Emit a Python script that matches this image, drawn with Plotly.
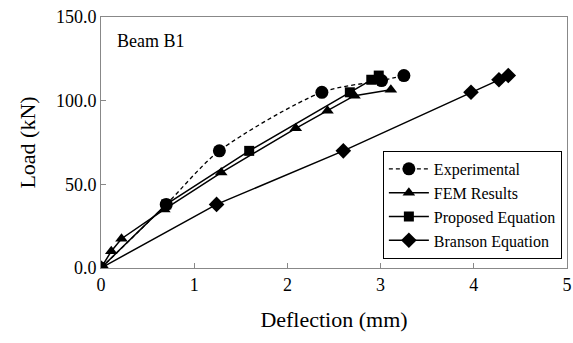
import plotly.graph_objects as go

exp_x = [0, 0.70, 1.27, 2.37, 3.01, 3.25]
exp_y = [0, 38, 70, 105, 112, 115]

fem_x = [0, 0.11, 0.22, 0.68, 1.29, 2.09, 2.43, 2.72, 3.11]
fem_y = [0, 10, 17.5, 35, 57, 83.5, 94, 103, 106.5]

prop_x = [0, 0.70, 1.59, 2.67, 2.90, 2.98]
prop_y = [0, 38, 70, 105, 112.5, 115]

bran_x = [0, 1.24, 2.60, 3.97, 4.27, 4.37]
bran_y = [0, 38, 70, 105, 112.5, 115]

FONT = "Liberation Serif"

fig = go.Figure()
fig.add_trace(go.Scatter(x=exp_x, y=exp_y, name="Experimental", mode="lines+markers",
                         line=dict(color="black", width=1.3, dash="4px,3px", shape="spline", smoothing=0.8),
                         marker=dict(symbol="circle", size=13, color="black")))
fig.add_trace(go.Scatter(x=fem_x, y=fem_y, name="FEM Results", mode="lines+markers",
                         line=dict(color="black", width=1.5),
                         marker=dict(symbol="triangle-up", size=11, color="black")))
fig.add_trace(go.Scatter(x=prop_x, y=prop_y, name="Proposed Equation", mode="lines+markers",
                         line=dict(color="black", width=1.5),
                         marker=dict(symbol="square", size=10, color="black")))
fig.add_trace(go.Scatter(x=bran_x, y=bran_y, name="Branson Equation", mode="lines+markers",
                         line=dict(color="black", width=1.5),
                         marker=dict(symbol="diamond", size=12, color="black")))

fig.update_layout(
    width=573, height=343,
    margin=dict(l=101, r=6, t=17, b=75),
    paper_bgcolor="white", plot_bgcolor="white",
    font=dict(family=FONT, size=18, color="black"),
    showlegend=True,
    legend=dict(x=0.989, y=0.036, xanchor="right", yanchor="bottom",
                bgcolor="white", bordercolor="black", borderwidth=1,
                font=dict(family=FONT, size=16), tracegroupgap=0,
                itemwidth=40),
    annotations=[dict(text="Beam B1", x=0.03, y=0.905, xref="paper", yref="paper",
                      xanchor="left", yanchor="middle", showarrow=False,
                      font=dict(family=FONT, size=18))],
)
fig.update_xaxes(range=[0, 5], tickvals=[0, 1, 2, 3, 4, 5], ticktext=["0", "1", "2", "3", "4", "5"],
                 ticks="inside", ticklen=5, tickcolor="#888", showgrid=False, zeroline=False,
                 showline=True, linecolor="#888", linewidth=1, mirror=True, automargin=False,
                 ticklabeloverflow="allow",
                 title=dict(text="Deflection (mm)", standoff=18))
fig.update_yaxes(range=[0, 150], tickvals=[0, 50, 100, 150], ticktext=["0.0", "50.0", "100.0", "150.0"],
                 ticks="inside", ticklen=5, tickcolor="#888", showgrid=False, zeroline=False,
                 showline=True, linecolor="#888", linewidth=1, mirror=True, automargin=False,
                 ticklabeloverflow="allow",
                 title=dict(text="Load (kN)", standoff=14))

fig.write_html("out.html", config={"displayModeBar": False},
               post_script="document.body.style.margin='0';document.body.style.overflow='hidden';")
